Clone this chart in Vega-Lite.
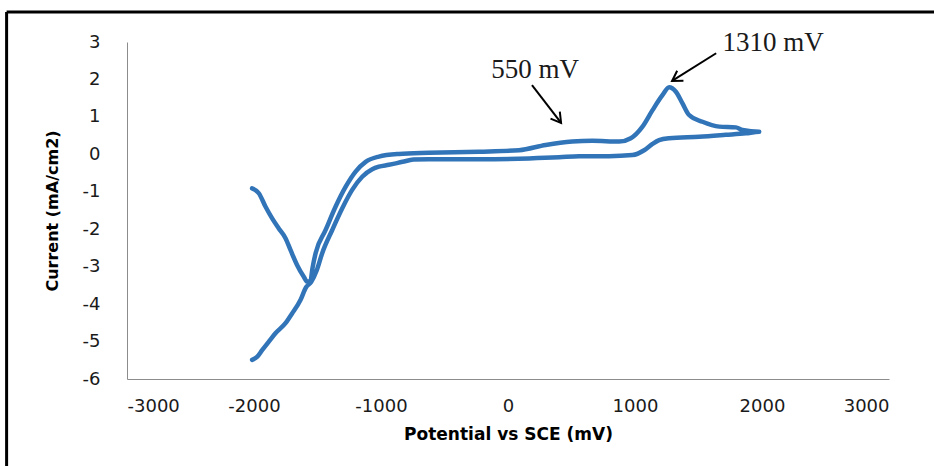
{
  "$schema": "https://vega.github.io/schema/vega-lite/v6.json",
  "width": 762,
  "height": 337,
  "autosize": "none",
  "padding": {"left": 127, "top": 42, "right": 45, "bottom": 87},
  "background": "white",
  "config": {
    "view": {"stroke": null},
    "axisY": {"labelOverlap": false, "labelFontSize": 18},
    "axisX": {"labelOverlap": false, "labelFontSize": 18}
  },
  "datasets": {
    "cv": [
      {"i": 1, "x": -2015, "y": -0.91}, {"i": 2, "x": -1962, "y": -1.04}, {"i": 3, "x": -1909, "y": -1.40},
      {"i": 4, "x": -1857, "y": -1.71}, {"i": 5, "x": -1805, "y": -1.98}, {"i": 6, "x": -1752, "y": -2.24},
      {"i": 7, "x": -1712, "y": -2.56}, {"i": 8, "x": -1660, "y": -2.96}, {"i": 9, "x": -1608, "y": -3.27},
      {"i": 10, "x": -1581, "y": -3.40}, {"i": 11, "x": -1555, "y": -3.38}, {"i": 12, "x": -1540, "y": -3.05},
      {"i": 13, "x": -1515, "y": -2.64}, {"i": 14, "x": -1436, "y": -2.02}, {"i": 15, "x": -1358, "y": -1.40},
      {"i": 16, "x": -1279, "y": -0.87}, {"i": 17, "x": -1200, "y": -0.46}, {"i": 18, "x": -1121, "y": -0.20},
      {"i": 19, "x": -1017, "y": -0.06}, {"i": 20, "x": -859, "y": 0.01}, {"i": 21, "x": -623, "y": 0.04},
      {"i": 22, "x": -229, "y": 0.07}, {"i": 23, "x": 87, "y": 0.11}, {"i": 24, "x": 297, "y": 0.25},
      {"i": 25, "x": 505, "y": 0.34}, {"i": 26, "x": 665, "y": 0.36}, {"i": 27, "x": 875, "y": 0.34},
      {"i": 28, "x": 967, "y": 0.43}, {"i": 29, "x": 1059, "y": 0.74}, {"i": 30, "x": 1138, "y": 1.18},
      {"i": 31, "x": 1216, "y": 1.58}, {"i": 32, "x": 1269, "y": 1.79}, {"i": 33, "x": 1322, "y": 1.67},
      {"i": 34, "x": 1374, "y": 1.36}, {"i": 35, "x": 1426, "y": 1.05}, {"i": 36, "x": 1531, "y": 0.87},
      {"i": 37, "x": 1663, "y": 0.74}, {"i": 38, "x": 1794, "y": 0.72}, {"i": 39, "x": 1846, "y": 0.65},
      {"i": 40, "x": 1978, "y": 0.60}, {"i": 41, "x": 1873, "y": 0.56}, {"i": 42, "x": 1715, "y": 0.52},
      {"i": 43, "x": 1505, "y": 0.47}, {"i": 44, "x": 1269, "y": 0.43}, {"i": 45, "x": 1190, "y": 0.38},
      {"i": 46, "x": 1138, "y": 0.28}, {"i": 47, "x": 1072, "y": 0.11}, {"i": 48, "x": 980, "y": -0.02},
      {"i": 49, "x": 796, "y": -0.05}, {"i": 50, "x": 560, "y": -0.05}, {"i": 51, "x": 402, "y": -0.08},
      {"i": 52, "x": 165, "y": -0.11}, {"i": 53, "x": -229, "y": -0.13}, {"i": 54, "x": -623, "y": -0.13},
      {"i": 55, "x": -745, "y": -0.14}, {"i": 56, "x": -830, "y": -0.20}, {"i": 57, "x": -938, "y": -0.28},
      {"i": 58, "x": -1017, "y": -0.33}, {"i": 59, "x": -1069, "y": -0.40}, {"i": 60, "x": -1148, "y": -0.60},
      {"i": 61, "x": -1227, "y": -0.95}, {"i": 62, "x": -1305, "y": -1.44}, {"i": 63, "x": -1384, "y": -2.02},
      {"i": 64, "x": -1463, "y": -2.64}, {"i": 65, "x": -1505, "y": -3.09}, {"i": 66, "x": -1550, "y": -3.41},
      {"i": 67, "x": -1590, "y": -3.55}, {"i": 68, "x": -1634, "y": -3.89}, {"i": 69, "x": -1700, "y": -4.25},
      {"i": 70, "x": -1752, "y": -4.51}, {"i": 71, "x": -1831, "y": -4.78}, {"i": 72, "x": -1883, "y": -5.00},
      {"i": 73, "x": -1936, "y": -5.23}, {"i": 74, "x": -1976, "y": -5.41}, {"i": 75, "x": -2015, "y": -5.49}
    ],
    "notes": [
      {"id": "a", "label": "550 mV", "tx": 213, "ty": 2.25, "x": 189, "y": 1.85, "x2": 418, "y2": 0.84},
      {"id": "b", "label": "1310 mV", "tx": 2088, "ty": 2.96, "x": 1639, "y": 2.70, "x2": 1292, "y2": 1.96}
    ],
    "frame": [
      {"x": -3948, "y": 3.8, "x2": 3600, "y2": 3.8},
      {"x": -3948, "y": 3.8, "x2": -3948, "y2": -8.8}
    ]
  },
  "encoding": {
    "x": {
      "field": "x", "type": "quantitative",
      "scale": {"domain": [-3000, 3000], "nice": false},
      "axis": {
        "values": [-3000, -2000, -1000, 0, 1000, 2000, 3000],
        "labelExpr": "toString(datum.value)",
        "labelFont": "DejaVu Sans", "labelFontSize": 18, "labelColor": "#1a1a1a", "labelOverlap": false,
        "labelPadding": 18,
        "ticks": false, "tickSize": 0, "grid": false,
        "domainColor": "#8c8c8c", "domainWidth": 1,
        "title": "Potential vs SCE (mV)", "titleFont": "DejaVu Sans", "titleFontWeight": "bold", "titleColor": "#000000",
        "titleFontSize": 17, "titlePadding": 11
      }
    },
    "y": {
      "field": "y", "type": "quantitative",
      "scale": {"domain": [-6, 3], "nice": false},
      "axis": {
        "values": [-6, -5, -4, -3, -2, -1, 0, 1, 2, 3],
        "labelExpr": "toString(datum.value)",
        "labelFont": "DejaVu Sans", "labelFontSize": 18, "labelColor": "#1a1a1a", "labelOverlap": false,
        "labelPadding": 27,
        "ticks": false, "tickSize": 0, "grid": false,
        "domainColor": "#8c8c8c", "domainWidth": 1,
        "title": "Current (mA/cm2)", "titleFont": "DejaVu Sans", "titleFontWeight": "bold", "titleColor": "#000000",
        "titleFontSize": 16, "titlePadding": 22
      }
    }
  },
  "layer": [
    {
      "data": {"name": "cv"},
      "mark": {"type": "line", "color": "#3274b8", "strokeWidth": 4.5, "strokeJoin": "round", "strokeCap": "round", "interpolate": "monotone"},
      "encoding": {
        "order": {"field": "i", "type": "quantitative"}
      }
    },
    {
      "data": {"name": "frame"},
      "mark": {"type": "rule", "color": "#000000", "strokeWidth": 3},
      "encoding": {
        "x2": {"field": "x2"},
        "y2": {"field": "y2"}
      }
    },
    {
      "data": {"name": "notes"},
      "mark": {"type": "rule", "color": "#000000", "strokeWidth": 2},
      "encoding": {
        "x2": {"field": "x2"},
        "y2": {"field": "y2"}
      }
    },
    {
      "data": {"name": "notes"},
      "transform": [{"filter": "datum.id == 'a'"}],
      "mark": {"type": "point", "shape": "M-0.6,1L0,0L0.6,1", "filled": false, "stroke": "#000000", "strokeWidth": 2, "size": 380, "angle": 142.6, "opacity": 1},
      "encoding": {
        "x": {"field": "x2", "type": "quantitative"},
        "y": {"field": "y2", "type": "quantitative"}
      }
    },
    {
      "data": {"name": "notes"},
      "transform": [{"filter": "datum.id == 'b'"}],
      "mark": {"type": "point", "shape": "M-0.6,1L0,0L0.6,1", "filled": false, "stroke": "#000000", "strokeWidth": 2, "size": 380, "angle": 237.5, "opacity": 1},
      "encoding": {
        "x": {"field": "x2", "type": "quantitative"},
        "y": {"field": "y2", "type": "quantitative"}
      }
    },
    {
      "data": {"name": "notes"},
      "mark": {"type": "text", "font": "Liberation Serif", "fontSize": 27, "color": "#1a1a1a", "align": "center", "baseline": "middle"},
      "encoding": {
        "x": {"field": "tx", "type": "quantitative"},
        "y": {"field": "ty", "type": "quantitative"},
        "text": {"field": "label"}
      }
    }
  ]
}
